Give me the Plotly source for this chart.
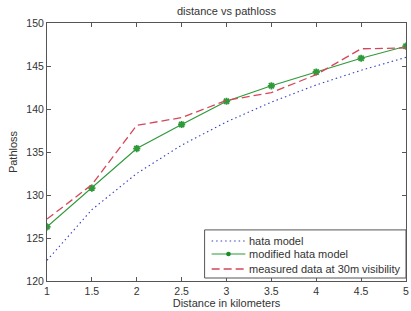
import plotly.graph_objects as go

distance = [1, 1.5, 2, 2.5, 3, 3.5, 4, 4.5, 5]
hata = [122.4, 128.3, 132.5, 135.8, 138.5, 140.8, 142.8, 144.5, 146.0]
modified_hata = [126.3, 130.8, 135.4, 138.2, 140.9, 142.7, 144.3, 145.9, 147.3]
measured = [127.2, 131.2, 138.1, 139.0, 141.0, 141.9, 144.0, 147.0, 147.1]

series_names = ["hata model", "modified hata model", "measured data at 30m visibility"]
x_ticks = [1, 1.5, 2, 2.5, 3, 3.5, 4, 4.5, 5]
x_tick_labels = ["1", "1.5", "2", "2.5", "3", "3.5", "4", "4.5", "5"]
y_ticks = [120, 125, 130, 135, 140, 145, 150]

BLUE = "#3443c0"
GREEN = "#2f9a3a"
RED = "#d4475a"
BLUE_DASH = "1.5px,3px"
RED_DASH = "8px,4px"

fig = go.Figure()
fig.add_trace(go.Scatter(x=distance, y=hata, mode="lines", name=series_names[0],
                         line=dict(color=BLUE, dash=BLUE_DASH, width=1.1)))
fig.add_trace(go.Scatter(x=distance, y=modified_hata, mode="lines+markers",
                         name=series_names[1],
                         line=dict(color=GREEN, width=1.2),
                         marker=dict(symbol="asterisk-open", size=6,
                                     line=dict(color="#1a8a28", width=1.8))))
fig.add_trace(go.Scatter(x=distance, y=measured, mode="lines",
                         name=series_names[2],
                         line=dict(color=RED, dash=RED_DASH, width=1.3)))

axis_common = dict(showline=True, linecolor="#555", linewidth=1, mirror="ticks",
                   ticks="inside", ticklen=4, tickcolor="#555", showgrid=False,
                   zeroline=False, tickfont=dict(size=10.5, color="#333"),
                   ticklabeloverflow="allow")

# custom compact legend (MATLAB style) in paper coordinates
shapes = [dict(type="rect", xref="paper", yref="paper", x0=0.439, x1=1.0,
               y0=0.0116, y1=0.198, line=dict(color="#555", width=1),
               fillcolor="white", layer="above")]
annotations = []
rows_y = [0.155, 0.1047, 0.0465]
styles = [dict(color=BLUE, dash=BLUE_DASH, width=1.1),
          dict(color=GREEN, width=1.2),
          dict(color=RED, dash=RED_DASH, width=1.3)]
for name, yy, st in zip(series_names, rows_y, styles):
    shapes.append(dict(type="line", xref="paper", yref="paper", x0=0.4586,
                       x1=0.5525, y0=yy, y1=yy, line=st, layer="above"))
    annotations.append(dict(text=name, xref="paper", yref="paper", x=0.556,
                            y=yy, xanchor="left", yanchor="middle",
                            showarrow=False, font=dict(size=11, color="#333")))
shapes.append(dict(type="circle", xref="paper", yref="paper",
                   x0=0.5055 - 0.0065, x1=0.5055 + 0.0065,
                   y0=rows_y[1] - 0.009, y1=rows_y[1] + 0.009,
                   fillcolor="#1a8a28", line=dict(color="#1a8a28", width=0),
                   layer="above"))

fig.update_layout(
    width=411, height=311,
    margin=dict(l=47, r=2, t=23, b=30),
    paper_bgcolor="white", plot_bgcolor="white",
    font=dict(family="Liberation Sans, Arial, sans-serif", size=11, color="#333"),
    title=dict(text="distance vs pathloss", x=0.5, xanchor="center", xref="paper",
               y=1, yref="container", yanchor="top", pad=dict(t=7),
               font=dict(size=11, color="#333")),
    xaxis=dict(range=[1, 5], tickvals=x_ticks, ticktext=x_tick_labels,
               title=dict(text="Distance in kilometers", standoff=1,
                          font=dict(size=11)), **axis_common),
    yaxis=dict(range=[120, 150], tickvals=y_ticks,
               title=dict(text="Pathloss", standoff=6, font=dict(size=11)),
               **axis_common),
    showlegend=False,
    shapes=shapes,
    annotations=annotations,
)

fig.write_html("out.html", config=dict(displayModeBar=False),
               post_script="document.body.style.margin='0';document.body.style.overflow='hidden';")
